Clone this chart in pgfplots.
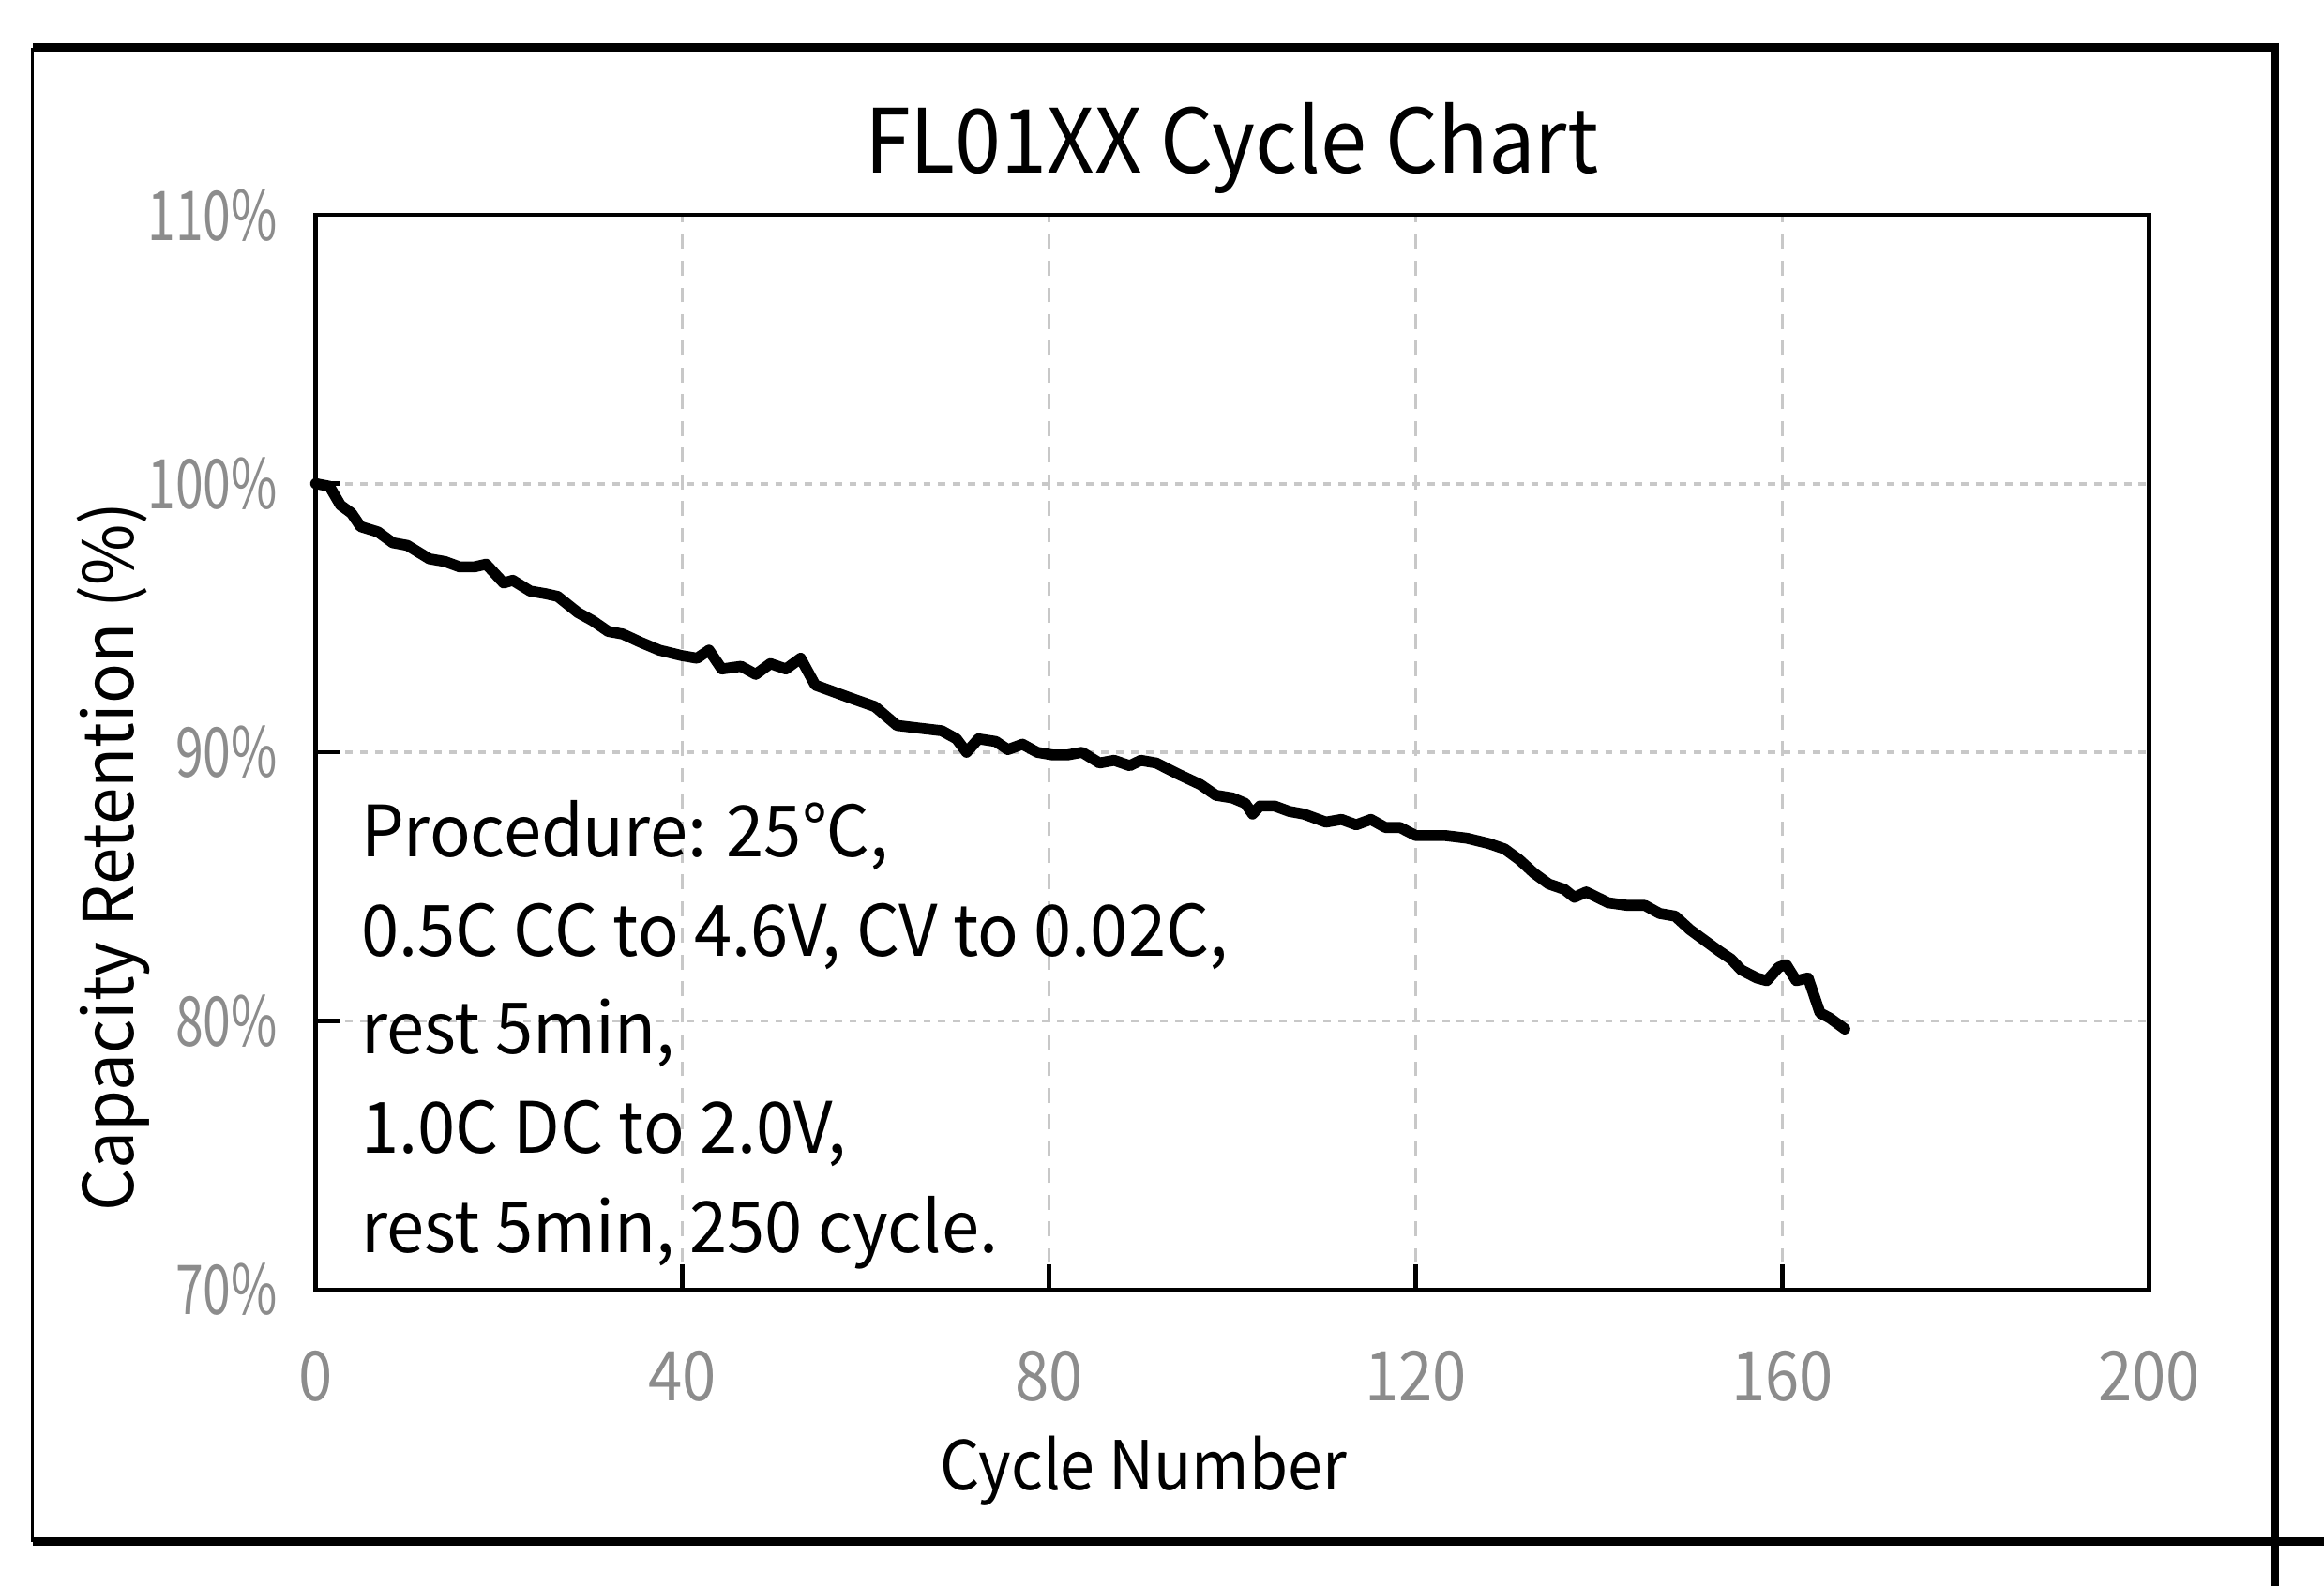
\documentclass[border=0pt]{standalone}
\usepackage{pgfplots}
\pgfplotsset{compat=1.18}
\usepackage{fontspec}
\setmainfont{Noto Sans CJK SC}
\definecolor{tickgray}{RGB}{140,140,140}
\definecolor{gridgray}{RGB}{200,200,200}
\begin{document}
\begin{tikzpicture}
\useasboundingbox (-21.3mm,-20mm) rectangle (135.5mm,87mm);
% outer frame
\draw[line width=0.6pt] (-19.1mm,-17mm) -- (-19.1mm,83.8mm);
\draw[line width=1.7pt] (-19.1mm,83.8mm) -- (132.4mm,83.8mm);
\draw[line width=1.5pt] (132.2mm,84.1mm) -- (132.2mm,-20mm);
\draw[line width=1.7pt] (-19.1mm,-17mm) -- (135.5mm,-17mm);
\begin{axis}[
  at={(0,0)}, anchor=south west,
  scale only axis, width=123.7mm, height=72.5mm,
  xmin=0, xmax=200, ymin=70, ymax=110,
  xtick={0,40,...,200}, ytick={70,80,...,110},
  xtick pos=bottom, ytick pos=left,
  tick align=inside, major tick length=1.7mm,
  tick style={black, line width=0.8pt},
  axis line style={line width=0.8pt},
  grid=major,
  x grid style={gridgray, dash pattern=on 1mm off 0.8mm, line width=0.5pt},
  y grid style={gridgray, dash pattern=on 0.5mm off 0.5mm, line width=0.7pt},
  /pgf/number format/assume math mode=true,
  ticklabel style={font=\fontsize{13.2}{15}\selectfont, text=tickgray, inner sep=0pt},
  xticklabel={\scalebox{0.89}[1]{\pgfmathprintnumber{\tick}}},
  yticklabel={\scalebox{0.73}[1]{\pgfmathprintnumber{\tick}\%}},
  yticklabel style={anchor=east, xshift=-2.5mm},
  xticklabel style={anchor=base, yshift=-7.5mm},
  clip=false,
]
\addplot[black, line width=2.1pt, line join=round, line cap=round] coordinates {
(0,100) (1.5,99.9) (2.7,99.2) (3.9,98.9) (4.9,98.4) (6.8,98.2) (8.4,97.8) (10,97.7) (12.4,97.2) (14.1,97.1) (15.7,96.9) (17.3,96.9) (18.6,97.0) (20.5,96.3) (21.5,96.4) (23.4,96.0) (25.1,95.9) (26.4,95.8) (28.6,95.2) (30.2,94.9) (31.9,94.5) (33.5,94.4) (35.4,94.1) (37.5,93.8) (39.9,93.6) (41.6,93.5) (42.9,93.8) (44.3,93.1) (46.4,93.2) (48.0,92.9) (49.6,93.3) (51.3,93.1) (52.9,93.5) (54.5,92.5) (56.1,92.3) (58.5,92.0) (61,91.7) (63.4,91.0) (65.8,90.9) (68.3,90.8) (69.9,90.5) (71,90.0) (72.3,90.5) (74.2,90.4) (75.5,90.1) (77.1,90.3) (78.7,90.0) (80.4,89.9) (82,89.9) (83.6,90.0) (85.5,89.6) (87.1,89.7) (88.8,89.5) (90,89.7) (91.7,89.6) (94,89.2) (96.5,88.8) (98.2,88.4) (100,88.3) (101.4,88.1) (102.2,87.7) (103,88.0) (104.6,88.0) (106.2,87.8) (107.8,87.7) (110.2,87.4) (111.9,87.5) (113.5,87.3) (115.1,87.5) (116.7,87.2) (118.3,87.2) (120,86.9) (121.6,86.9) (123.2,86.9) (125.6,86.8) (128,86.6) (129.7,86.4) (131.3,86.0) (132.9,85.5) (134.5,85.1) (136.2,84.9) (137.3,84.6) (138.6,84.8) (141,84.4) (143.1,84.3) (145,84.3) (146.6,84.0) (148.3,83.9) (149.9,83.4) (151.5,83.0) (153.1,82.6) (154.4,82.3) (155.5,81.9) (157.2,81.6) (158.3,81.5) (159.6,82.0) (160.4,82.1) (161.5,81.5) (162.8,81.6) (164.1,80.3) (165.2,80.1) (166.8,79.7)
};
\end{axis}
% title and labels
\node[anchor=base, font=\fontsize{17}{20}\selectfont] at (61.8mm,75.3mm) {\scalebox{0.935}[1]{FL01XX Cycle Chart}};
\node[anchor=base, font=\fontsize{13}{15}\selectfont] at (55.85mm,-13.5mm) {\scalebox{0.92}[1]{Cycle Number}};
\node[anchor=base, rotate=90, font=\fontsize{13.3}{15}\selectfont] at (-12.3mm,29.2mm) {\scalebox{0.96}[1]{Capacity Retention (\%)}};
% procedure text
\begin{scope}[every node/.style={anchor=base west, inner sep=0pt, font=\fontsize{13.6}{16}\selectfont}]
\node at (3mm,29.2mm) {\scalebox{0.957}[1]{Procedure: 25℃,}};
\node at (3mm,22.5mm) {\scalebox{0.957}[1]{0.5C CC to 4.6V, CV to 0.02C,}};
\node at (3mm,15.9mm) {\scalebox{0.957}[1]{rest 5min,}};
\node at (3mm,9.2mm) {\scalebox{0.957}[1]{1.0C DC to 2.0V,}};
\node at (3mm,2.5mm) {\scalebox{0.957}[1]{rest 5min, 250 cycle.}};
\end{scope}
\end{tikzpicture}
\end{document}
